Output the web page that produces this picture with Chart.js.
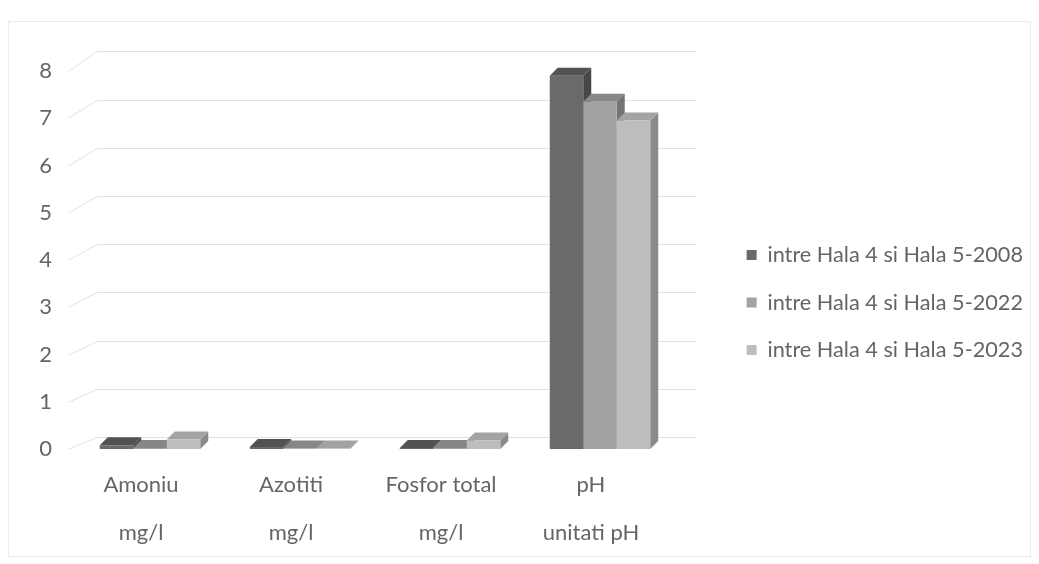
<!DOCTYPE html>
<html>
<head>
<meta charset="utf-8">
<script src="https://cdn.jsdelivr.net/npm/chart.js@4.4.0/dist/chart.umd.min.js"></script>
<style>
  html, body { margin: 0; padding: 0; background: #ffffff; }
  #wrap { width: 1039px; height: 564px; position: relative; }
</style>
</head>
<body>
<div id="wrap"><canvas id="c" width="1039" height="564"></canvas></div>
<script>
// Indicator categories (name + unit on a second line)
const categories = [
  ['Amoniu', 'mg/l'],
  ['Azotiti', 'mg/l'],
  ['Fosfor total', 'mg/l'],
  ['pH', 'unitati pH']
];

// Series names
const seriesNames = [
  'intre Hala 4 si Hala 5-2008',
  'intre Hala 4 si Hala 5-2022',
  'intre Hala 4 si Hala 5-2023'
];

// Measured values per series
const values2008 = [0.08, 0.04, 0.02, 7.9];
const values2022 = [0.02, 0.01, 0.02, 7.35];
const values2023 = [0.2, 0.01, 0.18, 6.95];

// Value axis
const yMin = 0;
const yMax = 8;
const yStep = 1;

// Shading for each series: front face, top face, right side face
const shades = [
  { front: '#6a6a6a', top: '#525252', side: '#474747' },
  { front: '#a3a3a3', top: '#878787', side: '#737373' },
  { front: '#bdbdbd', top: '#a3a3a3', side: '#8a8a8a' }
];

const TEXT = '#656565';
const FONT = 'Lato, "Open Sans", sans-serif';
const DEPTH_X = 8;    // extrusion of bars, to the right
const DEPTH_Y = 8;    // extrusion of bars, upwards
const PLOT_RIGHT = 675;  // right edge of the plot area
const RIGHT_PAD = 6;

// Faint outer frame around the whole chart
const framePlugin = {
  id: 'frame',
  beforeDraw(chart) {
    const ctx = chart.ctx;
    ctx.save();
    ctx.strokeStyle = '#ebebeb';
    ctx.lineWidth = 1;
    ctx.strokeRect(8.5, 21.5, 1022, 535);
    ctx.restore();
  }
};

// Gridlines on the back wall, joined to the value labels by a slanted side-wall line
const wallGridPlugin = {
  id: 'wallGrid',
  beforeDatasetsDraw(chart) {
    const { ctx, chartArea: a } = chart;
    const y = chart.scales.y;
    const base = y.getPixelForValue(yMin);
    ctx.save();
    ctx.strokeStyle = '#e2e2e2';
    ctx.lineWidth = 1;
    y.ticks.forEach(t => {
      const yf = y.getPixelForValue(t.value);
      const yb = base - 12 - (base - yf) * 1.02;
      ctx.beginPath();
      ctx.moveTo(a.left - 7, Math.round(yf) + 0.5);
      ctx.lineTo(a.left + 22, Math.round(yb) + 0.5);
      ctx.lineTo(a.right + 22, Math.round(yb) + 0.5);
      ctx.stroke();
    });
    ctx.restore();
  }
};

// Top and side faces of each bar, drawn behind the fronts the bar controller paints
const bar3dPlugin = {
  id: 'bar3d',
  beforeDatasetsDraw(chart) {
    const ctx = chart.ctx;
    const n = chart.data.labels.length;
    ctx.save();
    for (let i = 0; i < n; i++) {
      chart.data.datasets.forEach((ds, d) => {
        const el = chart.getDatasetMeta(d).data[i];
        if (!el) return;
        const { x, y, base, width } = el.getProps(['x', 'y', 'base', 'width'], true);
        const L = x - width / 2, R = x + width / 2;
        // side
        ctx.fillStyle = shades[d].side;
        ctx.beginPath();
        ctx.moveTo(R, y);
        ctx.lineTo(R + DEPTH_X, y - DEPTH_Y);
        ctx.lineTo(R + DEPTH_X, base - DEPTH_Y);
        ctx.lineTo(R, base);
        ctx.closePath();
        ctx.fill();
        // top
        ctx.fillStyle = shades[d].top;
        ctx.beginPath();
        ctx.moveTo(L, y);
        ctx.lineTo(R, y);
        ctx.lineTo(R + DEPTH_X, y - DEPTH_Y);
        ctx.lineTo(L + DEPTH_X, y - DEPTH_Y);
        ctx.closePath();
        ctx.fill();
      });
    }
    ctx.restore();
  }
};

const seriesValues = [values2008, values2022, values2023];

new Chart(document.getElementById('c'), {
  type: 'bar',
  data: {
    labels: categories,
    datasets: seriesValues.map((vals, d) => ({
      label: seriesNames[d],
      data: vals,
      backgroundColor: shades[d].front,
      borderWidth: 0
    }))
  },
  plugins: [framePlugin, wallGridPlugin, bar3dPlugin],
  options: {
    responsive: false,
    animation: false,
    devicePixelRatio: 1,
    layout: { padding: { top: 71, bottom: 6, left: 0, right: RIGHT_PAD } },
    datasets: {
      bar: { categoryPercentage: 0.67, barPercentage: 1.0 }
    },
    plugins: {
      tooltip: { enabled: false },
      legend: {
        position: 'right',
        align: 'start',
        maxWidth: 340,
        title: { display: true, text: '', font: { size: 10, lineHeight: 1 }, padding: { top: 137.4, bottom: 0 } },
        labels: {
          color: TEXT,
          font: { family: FONT, size: 21.7 },
          boxWidth: 10,
          boxHeight: 10,
          padding: 25.8
        }
      }
    },
    scales: {
      x: {
        grid: { display: false, drawTicks: false },
        border: { display: false },
        ticks: {
          color: TEXT,
          font: { family: FONT, size: 22, lineHeight: 48 / 22 },
          padding: 12,
          labelOffset: -9,
          maxRotation: 0,
          autoSkip: false
        },
        afterFit(s) { s.height = 109; }
      },
      y: {
        min: yMin,
        max: yMax,
        grid: { display: false, drawTicks: false },
        border: { display: false },
        ticks: {
          stepSize: yStep,
          color: TEXT,
          font: { family: FONT, size: 22 },
          padding: 23
        },
        afterFit(s) { s.width = 75; }
      },
      yGap: {
        type: 'linear',
        axis: 'y',
        position: 'right',
        display: true,
        grid: { display: false, drawTicks: false },
        border: { display: false },
        ticks: { display: false },
        afterFit(s) {
          const lg = s.chart.legend;
          const lw = lg ? lg.width : 0;
          s.width = Math.max(0, s.chart.width - RIGHT_PAD - lw - PLOT_RIGHT);
        }
      }
    }
  }
});
</script>
</body>
</html>
